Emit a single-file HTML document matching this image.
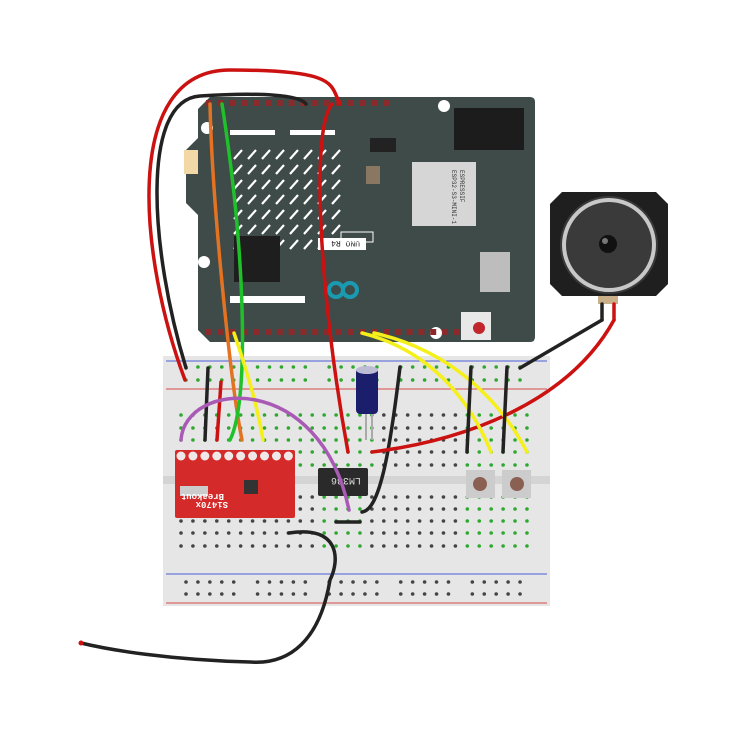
<!DOCTYPE html>
<html><head><meta charset="utf-8"><style>html,body{margin:0;padding:0;background:#fff}svg{display:block}</style></head>
<body>
<svg id="s" width="750" height="750" viewBox="0 0 750 750" xmlns="http://www.w3.org/2000/svg" font-family="Liberation Mono, monospace">
<rect x="163" y="356" width="387" height="250" fill="#e6e6e6"/>
<rect x="163" y="476" width="387" height="8" fill="#d4d4d4"/>
<line x1="166" y1="361" x2="547" y2="361" stroke="#4a5ed8" stroke-width="1"/>
<line x1="166" y1="389" x2="547" y2="389" stroke="#d84a4a" stroke-width="1"/>
<line x1="166" y1="574" x2="547" y2="574" stroke="#4a5ed8" stroke-width="1"/>
<line x1="166" y1="603" x2="547" y2="603" stroke="#d84a4a" stroke-width="1"/>
<g id="holes"></g>
<path d="M210 97 H530 Q535 97 535 102 V337 Q535 342 530 342 H210 L198 330 V215 L186 203 V150 L198 138 V109 Z" fill="#3e4b49"/>
<circle cx="207" cy="128" r="6" fill="#fff"/><circle cx="204" cy="262" r="6" fill="#fff"/><circle cx="444" cy="106" r="6" fill="#fff"/><circle cx="436" cy="333" r="6" fill="#fff"/>
<g id="hdr"></g>
<g stroke="#fff" stroke-width="2.2" id="hatch"></g>
<rect x="234" y="236" width="46" height="46" fill="#1e1e1e"/>
<rect x="412" y="162" width="64" height="64" fill="#d6d6d6"/>
<text x="0" y="0" transform="translate(460,170) rotate(90)" font-size="6" fill="#333">ESPRESSIF</text>
<text x="0" y="0" transform="translate(452,170) rotate(90)" font-size="6" fill="#333">ESP32-S3-MINI-1</text>
<rect x="480" y="252" width="30" height="40" fill="#bdbdbd"/>
<rect x="454" y="108" width="70" height="42" fill="#1c1c1c"/>
<rect x="461" y="312" width="30" height="28" fill="#e8e8e8"/>
<circle cx="479" cy="328" r="6" fill="#c0262c"/>
<rect x="366" y="166" width="14" height="18" fill="#8a7762"/>
<rect x="370" y="138" width="26" height="14" fill="#222"/>
<rect x="318" y="238" width="48" height="12" fill="#fff"/>
<text x="324" y="247" font-size="8" fill="#222" transform="rotate(180 342 244)">UNO R4</text>
<rect x="341" y="232" width="32" height="10" fill="none" stroke="#fff"/>
<circle cx="336" cy="290" r="7" fill="none" stroke="#1a9ab0" stroke-width="4"/><circle cx="350" cy="290" r="7" fill="none" stroke="#1a9ab0" stroke-width="4"/>
<rect x="230" y="296" width="75" height="7" fill="#fff"/>
<rect x="230" y="130" width="45" height="5" fill="#fff"/>
<rect x="290" y="130" width="45" height="5" fill="#fff"/>
<rect x="184" y="150" width="14" height="24" fill="#f2d8a6"/>
<rect x="318" y="468" width="50" height="28" rx="2" fill="#2a2a2a"/>
<text x="325" y="486" font-size="10" fill="#ddd" transform="rotate(180 343 482)">LM386</text>
<rect x="466" y="470" width="29" height="28" fill="#ccc"/><circle cx="480" cy="484" r="7" fill="#8a6052"/>
<rect x="502" y="470" width="29" height="28" fill="#ccc"/><circle cx="517" cy="484" r="7" fill="#8a6052"/>
<line x1="366" y1="412" x2="366" y2="440" stroke="#aaa" stroke-width="2"/><line x1="372" y1="412" x2="372" y2="440" stroke="#aaa" stroke-width="2"/>
<rect x="356" y="368" width="22" height="46" rx="4" fill="#1b1f6b"/>
<ellipse cx="367" cy="370" rx="11" ry="4" fill="#bcbcd4"/>
<rect x="175" y="450" width="120" height="68" rx="2" fill="#d42a2a"/>
<g id="pads"></g>
<rect x="180" y="486" width="28" height="10" fill="#ccc"/>
<rect x="244" y="480" width="14" height="14" fill="#333"/>
<text x="182" y="508" font-size="9" fill="#fff" font-weight="bold" transform="rotate(180 205 505)">Si470x</text>
<text x="186" y="500" font-size="9" fill="#fff" font-weight="bold" transform="rotate(180 205 497)">Breakout</text>
<path d="M562 192 H656 L668 204 V284 L656 296 H562 L550 284 V204 Z" fill="#1f1f1f"/>
<circle cx="609" cy="245" r="49" fill="#3a3a3a"/>
<circle cx="609" cy="245" r="45" fill="none" stroke="#c8c8c8" stroke-width="4"/>
<circle cx="609" cy="245" r="40" fill="#3a3a3a"/>
<circle cx="608" cy="244" r="9" fill="#111"/><circle cx="605" cy="241" r="3" fill="#777"/>
<rect x="598" y="296" width="20" height="8" fill="#c9b08a"/>
<g fill="none" stroke-width="3.5" stroke-linecap="round">
<path d="M186 368 C150 250 140 100 200 96 S300 95 306 104" stroke="#222"/>
<path d="M185 380 C140 260 120 70 230 70 S330 85 340 104" stroke="#cc1111"/>
<path d="M210 104 C212 200 230 380 242 440" stroke="#e37222"/>
<path d="M222 104 C245 250 250 400 230 440" stroke="#1fc12a"/>
<path d="M208 368 L205 440" stroke="#222"/>
<path d="M221 382 L217 440" stroke="#cc1111"/>
<path d="M234 333 C250 380 258 410 263 440" stroke="#f5ef1b"/>
<path d="M181 440 C185 380 320 370 349 510" stroke="#a85ab5"/>
<path d="M332 104 C310 130 320 300 348 452" stroke="#cc1111"/>
<path d="M400 367 C390 450 380 510 362 512" stroke="#222"/>
<path d="M336 522 L360 522" stroke="#222"/>
<path d="M372 452 C470 440 570 400 614 320" stroke="#cc1111"/>
<path d="M520 368 L602 320" stroke="#222"/>
<path d="M602 304 L602 320" stroke="#222"/><path d="M614 304 L614 320" stroke="#cc1111"/>
<path d="M362 333 C430 350 470 400 491 452" stroke="#f5ef1b"/>
<path d="M374 333 C450 350 500 400 527 452" stroke="#f5ef1b"/>
<path d="M471 367 L467 452" stroke="#222"/>
<path d="M507 367 L503 452" stroke="#222"/>
<path d="M289 533 C340 525 340 560 330 580 C320 640 290 665 250 662 C170 660 110 650 81 643" stroke="#222"/>
</g>
<circle cx="81" cy="643" r="2.5" fill="#cc1111"/>
</svg>
<script>
(function(){
var ns="http://www.w3.org/2000/svg";
function c(p,x,y,r,f){var e=document.createElementNS(ns,"circle");e.setAttribute("cx",x);e.setAttribute("cy",y);e.setAttribute("r",r);e.setAttribute("fill",f);p.appendChild(e);}
function rc(p,x,y,w,h,f){var e=document.createElementNS(ns,"rect");e.setAttribute("x",x);e.setAttribute("y",y);e.setAttribute("width",w);e.setAttribute("height",h);e.setAttribute("fill",f);p.appendChild(e);}
var H=document.getElementById("holes");
var tr=[415,428,440,452,465],br=[497,509,521,533,546];
for(var i=0;i<30;i++){(function(i){var x=181+i*11.93;
 tr.forEach(function(y){c(H,x,y,1.8,(i<17||i>=24)?"#2fa82f":"#444");});
 br.forEach(function(y){c(H,x,y,1.8,((i>=12&&i<16)||i>=24)?"#2fa82f":"#444");});})(i);}
[[367,1],[380,1],[582,0],[594,0]].forEach(function(r){
 for(var i=0;i<29;i++){if(i%6==5)continue;var x=186+i*11.93;c(H,x,r[0],1.8,r[1]?"#2fa82f":"#444");}});
var D=document.getElementById("hdr");
for(var i=0;i<16;i++){rc(D,206+i*11.8,100,6,6,"#8a2a2a");}
for(var i=0;i<24;i++){rc(D,206+i*11.8,329,6,6,"#8a2a2a");}
var G=document.getElementById("hatch");
for(var r=0;r<7;r++)for(var k=0;k<8;k++){var x=234+k*14,y=150+r*15;var l=document.createElementNS(ns,"line");l.setAttribute("x1",x);l.setAttribute("y1",y+9);l.setAttribute("x2",x+8);l.setAttribute("y2",y);G.appendChild(l);}
var P=document.getElementById("pads");
for(var i=0;i<10;i++){c(P,181+i*11.93,456,4.5,"#f0e8e8");}
})();
</script>
</body></html>
